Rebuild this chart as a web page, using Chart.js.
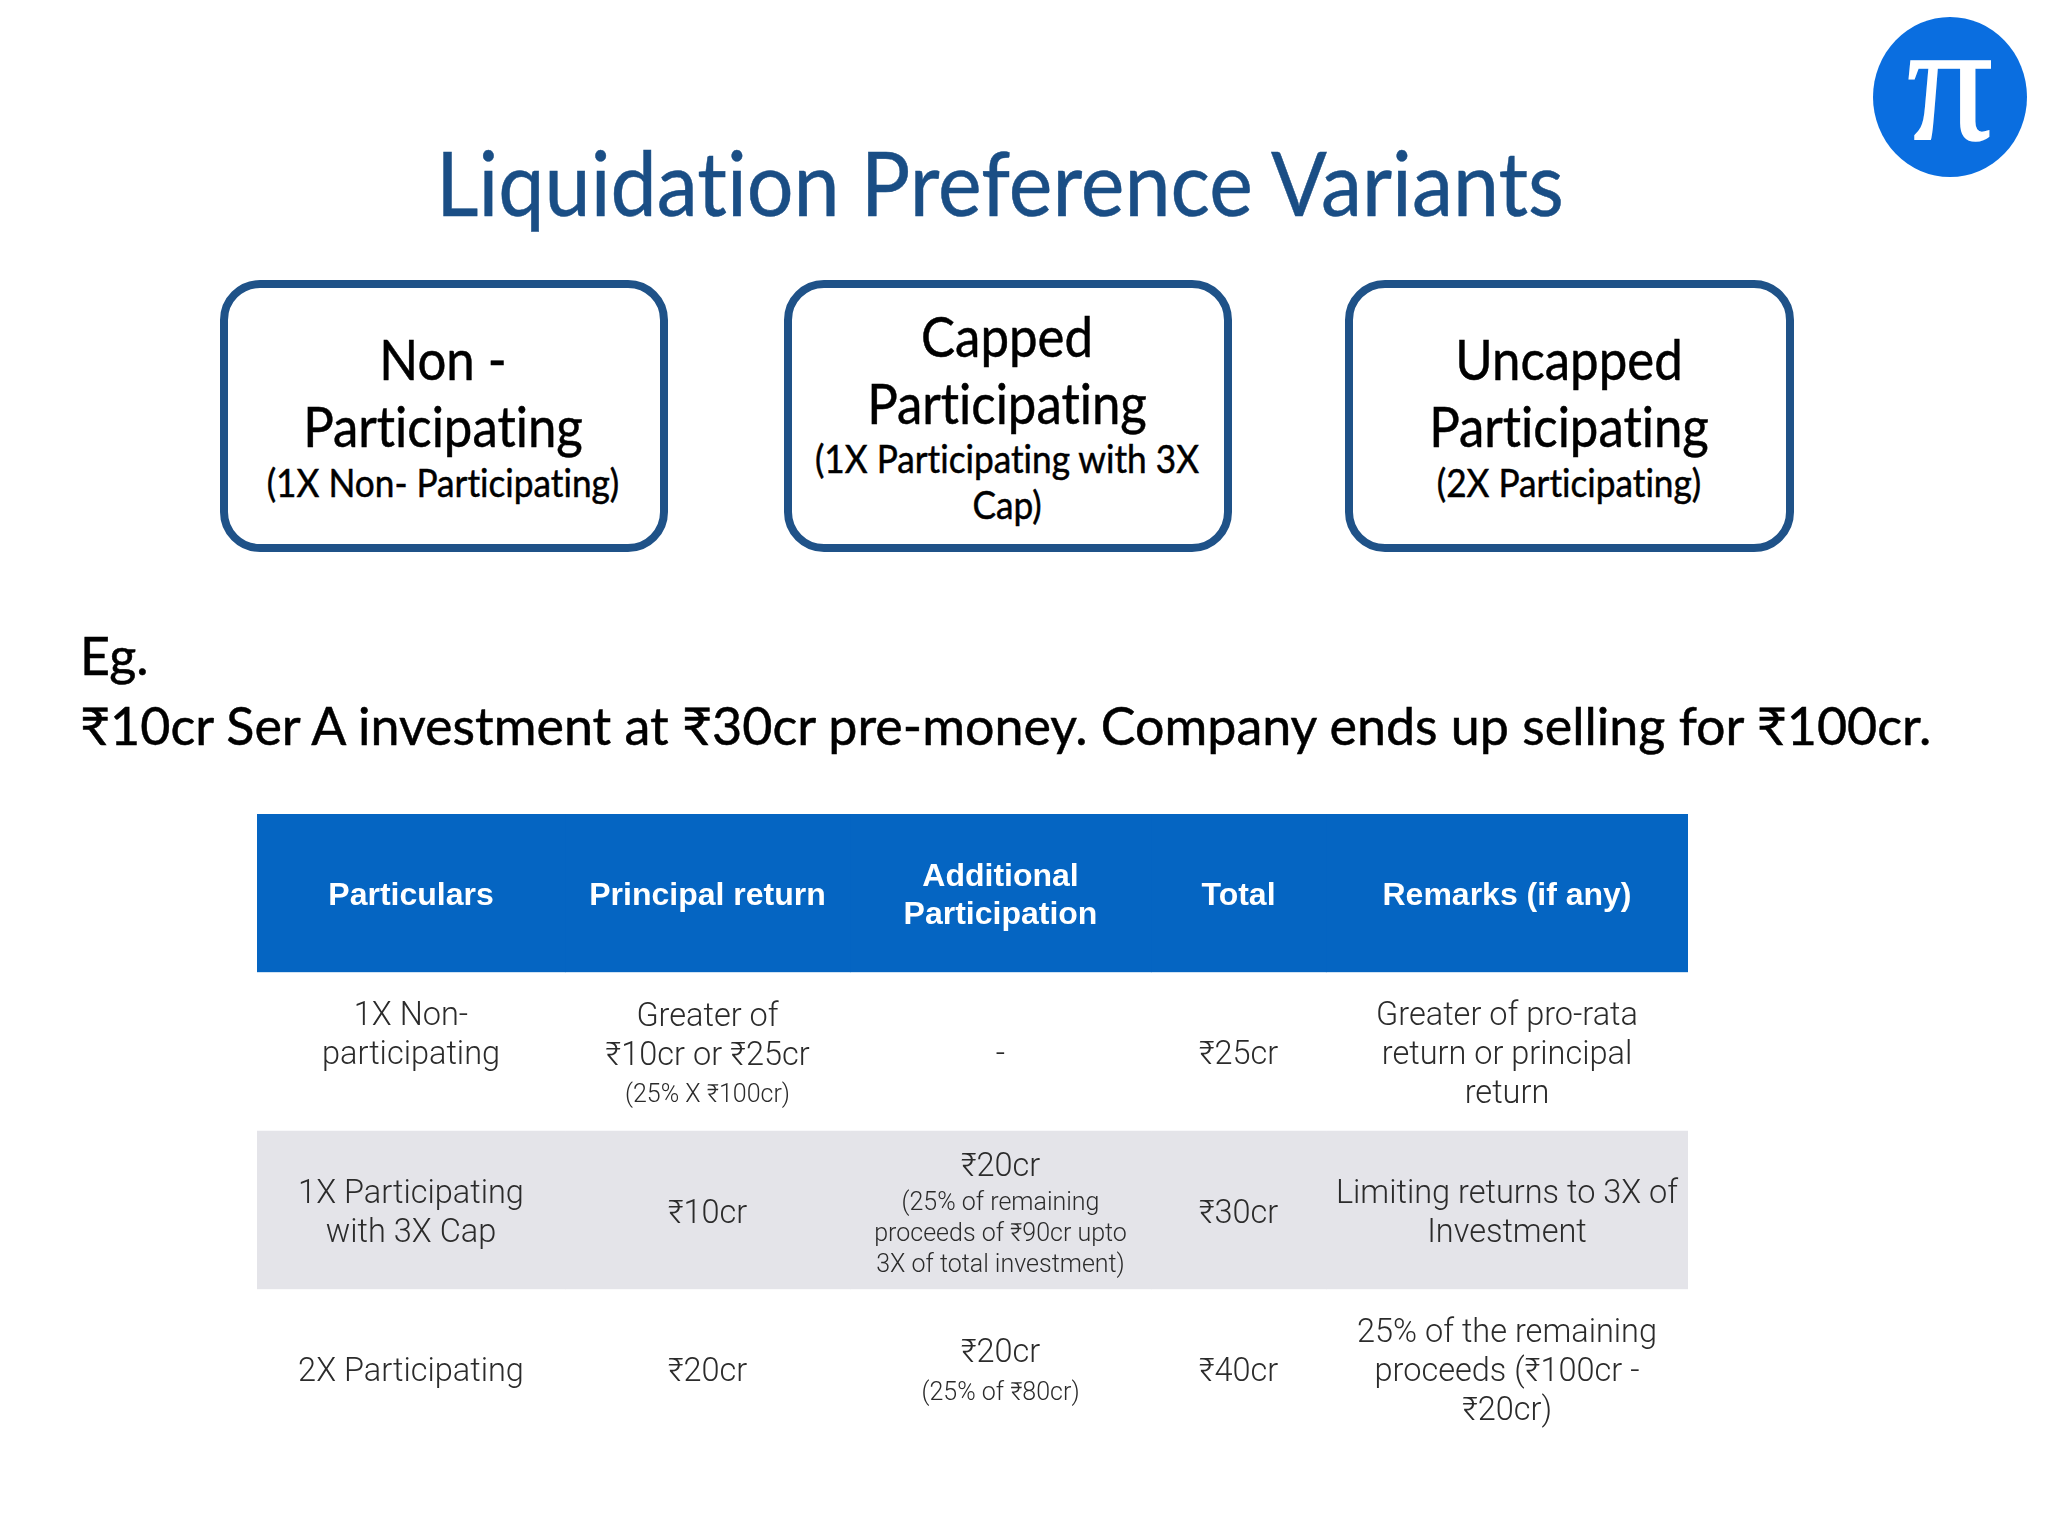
<!DOCTYPE html>
<html>
<head>
<meta charset="utf-8">
<title>Liquidation Preference Variants</title>
<script src="https://cdn.jsdelivr.net/npm/chart.js@4/dist/chart.umd.min.js"></script>
<style>
  html, body { margin: 0; padding: 0; background: #fff; }
  #slide { position: relative; width: 2048px; height: 1536px; overflow: hidden; font-family: Lato, "Noto Sans", sans-serif; color: #000; font-variant-ligatures: none; }
  .line { position: absolute; white-space: nowrap; line-height: 1; -webkit-text-stroke: 0.5px currentColor; }
  .center { transform: translateX(-50%) scaleX(0.91); }
  .sub { transform: translateX(-50%) scaleX(0.927); }
  .titulo { transform: translateX(-50%) scaleX(0.918); }
  .box { position: absolute; top: 280px; width: 432px; height: 256px; border: 8px solid #1f5288; border-radius: 40px; }
  #logo { position: absolute; left: 1873px; top: 17px; width: 154px; height: 160px; border-radius: 50%; background: #0a6ee0; }
  #logo span { position: absolute; left: 0; right: 0; top: -32px; text-align: center; font: 170px "Liberation Serif", serif; color: #fff; -webkit-text-stroke: 1.5px #fff; }
  #tabela { position: absolute; left: 257px; top: 814px; }
</style>
</head>
<body>
<div id="slide">
  <div id="logo"><span>π</span></div>
  <div class="line titulo" style="left:1000px;top:136px;font-size:90px;color:#1a4e85">Liquidation Preference Variants</div>

  <div class="box" style="left:220px"></div>
  <div class="box" style="left:784px"></div>
  <div class="box" style="left:1345px;width:433px"></div>

  <div class="line center" style="left:443px;top:331px;font-size:56px">Non -</div>
  <div class="line center" style="left:443px;top:398px;font-size:56px">Participating</div>
  <div class="line sub" style="left:443px;top:463px;font-size:38px">(1X Non- Participating)</div>

  <div class="line center" style="left:1007px;top:308px;font-size:56px">Capped</div>
  <div class="line center" style="left:1007px;top:375px;font-size:56px">Participating</div>
  <div class="line sub" style="left:1007px;top:439px;font-size:38px">(1X Participating with 3X</div>
  <div class="line sub" style="left:1007px;top:485px;font-size:38px">Cap)</div>

  <div class="line center" style="left:1569px;top:331px;font-size:56px">Uncapped</div>
  <div class="line center" style="left:1569px;top:398px;font-size:56px">Participating</div>
  <div class="line sub" style="left:1569px;top:463px;font-size:38px">(2X Participating)</div>

  <div class="line" style="left:80px;top:629px;font-size:52px">Eg.</div>
  <div class="line" style="left:80px;top:699px;font-size:52px">₹10cr Ser A investment at ₹30cr pre-money. Company ends up selling for ₹100cr.</div>

  <canvas id="tabela" width="1431" height="634"></canvas>
</div>

<script>
// Dados da tabela
const linhas = ['Cabecalho', '1X', '1X Cap', '2X'];
const cabecalhos = [['Particulars'], ['Principal return'], ['Additional', 'Participation'], ['Total'], ['Remarks (if any)']];
const particulares = [['1X Non-', 'participating', ''], ['1X Participating', 'with 3X Cap'], ['2X Participating']];
const principal = [['Greater of', '₹10cr or ₹25cr'], ['₹10cr'], ['₹20cr']];
const principalNotas = [['(25% X ₹100cr)'], [], []];
const adicional = [['-'], ['₹20cr'], ['₹20cr']];
const adicionalNotas = [[], ['(25% of remaining', 'proceeds of ₹90cr upto', '3X of total investment)'], ['(25% of ₹80cr)']];
const total = [['₹25cr'], ['₹30cr'], ['₹40cr']];
const observacoes = [
  ['Greater of pro-rata', 'return or principal', 'return'],
  ['Limiting returns to 3X of', 'Investment'],
  ['25% of the remaining', 'proceeds (₹100cr -', '₹20cr)']
];

// Largura de cada coluna e cor de cada linha
const larguras = [308, 285, 301, 175, 362];
const coresLinhas = ['#0565c2', '#ffffff', '#e4e4e9', '#ffffff'];

const colunas = [particulares, principal, adicional, total, observacoes];
const notas = [[], principalNotas, adicionalNotas, [], []];

const fonteCorpo = '300 32.5px Roboto, "Liberation Sans", sans-serif';
const fonteNota = '300 25px Roboto, "Liberation Sans", sans-serif';
const fonteCabecalho = 'bold 32px "Liberation Sans", sans-serif';

// Desenha os textos no centro de cada celula
const textoCelulas = {
  id: 'textoCelulas',
  afterDatasetsDraw(chart) {
    const ctx = chart.ctx;
    ctx.save();
    ctx.textAlign = 'center';
    ctx.textBaseline = 'middle';
    colunas.forEach((coluna, c) => {
      const meta = chart.getDatasetMeta(c);
      linhas.forEach((nome, l) => {
        const barra = meta.data[l];
        const cx = (barra.base + barra.x) / 2;
        const cy = barra.y;
        if (l === 0) {
          ctx.fillStyle = '#ffffff';
          ctx.font = fonteCabecalho;
          cabecalhos[c].forEach((t, i) => ctx.fillText(t, cx, cy + 3 + (i - (cabecalhos[c].length - 1) / 2) * 38));
          return;
        }
        const principais = coluna[l - 1];
        const extras = notas[c][l - 1] || [];
        // Nota unica fica mais afastada do texto principal
        const passoNota = extras.length === 1 ? 38 : 31;
        const altura = principais.length * 39 + extras.length * passoNota;
        let y = cy + 5 - altura / 2;
        ctx.fillStyle = '#2b2b2b';
        ctx.font = fonteCorpo;
        principais.forEach(t => {
          ctx.fillText(t, cx, y + 19);
          y += 39;
        });
        ctx.font = fonteNota;
        extras.forEach(t => {
          ctx.fillText(t, cx, y + passoNota / 2);
          y += passoNota;
        });
      });
    });
    ctx.restore();
  }
};

document.fonts.load(fonteCorpo).finally(function() {
  new Chart(document.getElementById('tabela').getContext('2d'), {
    type: 'bar',
    data: {
      labels: linhas,
      datasets: larguras.map(largura => ({
        data: linhas.map(() => largura),
        backgroundColor: coresLinhas,
        borderWidth: 0,
        barPercentage: 1,
        categoryPercentage: 1
      }))
    },
    options: {
      indexAxis: 'y',
      responsive: false,
      animation: false,
      devicePixelRatio: 1,
      layout: { padding: 0 },
      plugins: { legend: { display: false }, tooltip: { enabled: false }, title: { display: false } },
      scales: {
        x: { stacked: true, display: false, min: 0, max: 1431 },
        y: { stacked: true, display: false }
      }
    },
    plugins: [textoCelulas]
  });
});
</script>
</body>
</html>
